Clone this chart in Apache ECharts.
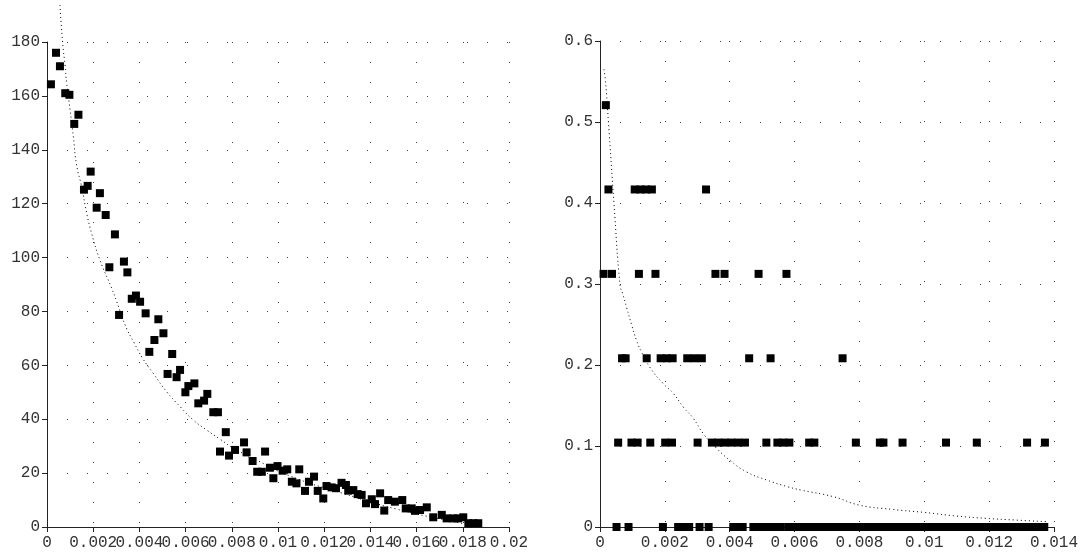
<!DOCTYPE html>
<html>
<head>
<meta charset="utf-8">
<script src="https://cdn.jsdelivr.net/npm/echarts@6/dist/echarts.min.js"></script>
<style>html,body{margin:0;padding:0;background:#fff}#c{width:1081px;height:552px}</style>
</head>
<body>
<div id="c"></div>
<script>
// ---------- Left chart data ----------
const leftPointsX = [0.00017,0.00039,0.00056,0.00079,0.00097,0.00118,0.00136,0.0016,0.00176,0.00189,
  0.00215,0.00229,0.00254,0.0027,0.00294,0.00312,0.00333,0.00348,0.00367,0.00385,
  0.00403,0.00427,0.00443,0.00465,0.00482,0.00504,0.00522,0.00542,0.00561,0.00576,
  0.00599,0.00612,0.00638,0.00655,0.0068,0.00694,0.0072,0.0074,0.00749,0.00774,
  0.00788,0.00814,0.00853,0.00864,0.0089,0.0091,0.0093,0.00944,0.00965,0.0098,
  0.00998,0.0102,0.0104,0.0106,0.0108,0.01092,0.01117,0.01134,0.01156,0.01172,
  0.01196,0.0121,0.01232,0.01251,0.01275,0.01294,0.01304,0.01326,0.01345,0.01362,
  0.01381,0.01406,0.0142,0.01442,0.0146,0.01477,0.01506,0.01538,0.01553,0.01579,
  0.01593,0.01615,0.01644,0.01672,0.01709,0.0173,0.01759,0.0178,0.01802,0.01824,
  0.01845,0.01867];
const leftPointsY = [164.3,176,171,161,160.4,149.6,153,125.2,126.6,131.9,
  118.5,123.9,115.8,96.4,108.6,78.7,98.5,94.5,84.7,85.9,
  83.6,79.3,65,69.4,77.1,71.9,56.8,64.2,55.6,58.3,
  50,52.3,53.3,45.9,46.9,49.4,42.6,42.6,28,35.2,
  26.5,28.6,31.4,27.7,24.5,20.5,20.5,28,22,18.1,
  22.6,20.9,21.4,16.8,16.2,21.4,13.4,16.8,18.7,13.4,
  10.6,15.2,14.7,14.4,16.4,15.6,13.5,13.7,12.2,11.9,
  8.8,10.3,8.5,12.5,6.1,10,9.4,10,6.9,6.9,
  6,6.3,7.3,3.6,4.5,3.2,3.2,3.2,3.6,1.4,
  1.4,1.4];
const leftCurveX = [0.00056,0.00068,0.00078,0.00085,0.001,0.00114,0.00128,0.0015,0.00172,0.00193,
  0.00229,0.0028,0.00302,0.00338,0.00378,0.00414,0.0046,0.00518,0.00576,0.00633,
  0.00691,0.00749,0.00807,0.00879,0.0105,0.0128,0.0151,0.017,0.0185];
const leftCurveY = [193.7,179.3,171.5,164.7,154.8,144.9,134.4,126.3,116.4,109,
  99.1,88.6,83.6,75,68.2,62.6,57,50.2,44.7,39.7,
  36,32.6,29.2,26.1,19,12.5,6.7,3,0.5];
const leftXTicks = {min: 0, max: 0.02, interval: 0.002};
const leftYTicks = {min: 0, max: 180, interval: 20};

// ---------- Right chart data ----------
const rightLevels = [0, 0.1042, 0.2083, 0.3125, 0.4167, 0.5208];
const rightRow5 = [0.00018];
const rightRow4 = [0.00026,0.00107,0.00125,0.00142,0.0016,0.00327];
const rightRow3 = [0.00011,0.00037,0.0012,0.00171,0.00356,0.00384,0.00489,0.00575];
const rightRow2 = [0.00068,0.00079,0.00144,0.00187,0.00206,0.00224,0.00269,0.00291,0.00314,0.0046,0.00526,0.00748];
const rightRow1 = [0.00056,0.00097,0.00116,0.00155,0.00201,0.00222,0.00301,0.00345,0.00365,0.00385,
  0.00405,0.00425,0.00447,0.00513,0.00547,0.00565,0.00584,0.00645,0.00661,0.00789,
  0.00863,0.00874,0.00933,0.01067,0.01162,0.01317,0.01372];
const rightRow0 = [0.00051,0.00088,0.00194,0.00241,0.00261,0.00275,0.00307,0.00335,0.00411,0.00429,
  0.0044,0.00473,0.00487,0.00503,0.00518,0.00533,0.00555,0.0058,0.0060,0.0061,
  0.0063,0.0065,0.0066,0.0068,0.0070,0.0071,0.0073,0.0075,0.0076,0.0078,
  0.0080,0.0081,0.0083,0.0085,0.0086,0.0088,0.0090,0.0091,0.0093,0.0095,
  0.0096,0.0098,0.0100,0.0101,0.0103,0.0105,0.0106,0.0108,0.0110,0.0111,
  0.0113,0.0115,0.0116,0.0118,0.0120,0.0121,0.0123,0.0125,0.0126,0.0128,
  0.0130,0.0131,0.0133,0.0135,0.0136,0.0137];
const rightCurveX = [0.00012,0.00017,0.00026,0.00043,0.00062,0.0007,0.00082,0.00098,0.00113,0.00128,
  0.00154,0.00195,0.00226,0.00257,0.00288,0.00319,0.0036,0.004,0.00452,0.00514,
  0.00576,0.0062,0.0072,0.008,0.009,0.01,0.011,0.0119,0.0128,0.0138];
const rightCurveY = [0.565,0.55,0.5,0.4,0.298,0.288,0.271,0.249,0.23,0.216,
  0.197,0.177,0.165,0.148,0.134,0.115,0.097,0.0825,0.068,0.058,
  0.05,0.0456,0.0374,0.027,0.0218,0.018,0.0135,0.0107,0.0086,0.0065];
const rightXTicks = {min: 0, max: 0.014, interval: 0.002};
const rightYTicks = {min: 0, max: 0.6, interval: 0.1};

// ---------- build ----------
const zip = (xs, ys) => xs.map((x, i) => [x, ys[i]]);
const row = (xs, lvl) => xs.map(x => [x, lvl]);
const rightPoints = [].concat(
  row(rightRow0, rightLevels[0]), row(rightRow1, rightLevels[1]), row(rightRow2, rightLevels[2]),
  row(rightRow3, rightLevels[3]), row(rightRow4, rightLevels[4]), row(rightRow5, rightLevels[5]));

const FONT = 'Liberation Mono';
const gridLine = {show: true, lineStyle: {color: '#444', width: 1, type: [1, 19]}};
const axisBase = (t, gi, isX) => ({
  type: 'value', gridIndex: gi, min: t.min, max: t.max, interval: t.interval,
  axisLine: {show: true, onZero: false, lineStyle: {color: '#222', width: 1}},
  axisTick: {show: true, inside: false, length: 5, lineStyle: {color: '#222'}},
  axisLabel: {show: true, color: '#333', fontFamily: FONT, fontSize: 16,
    margin: isX ? 8 : 7, hideOverlap: false, showMinLabel: true, showMaxLabel: true},
  splitLine: gridLine
});

const chart = echarts.init(document.getElementById('c'), null, {renderer: 'canvas'});
chart.setOption({
  backgroundColor: '#fff',
  animation: false,
  grid: [
    {left: 47, top: 42, width: 462, height: 485, outerBoundsMode: 'none', containLabel: false},
    {left: 600, top: 41, width: 454, height: 486, outerBoundsMode: 'none', containLabel: false}
  ],
  xAxis: [axisBase(leftXTicks, 0, true), axisBase(rightXTicks, 1, true)],
  yAxis: [axisBase(leftYTicks, 0, false), axisBase(rightYTicks, 1, false)],
  series: [
    {type: 'line', xAxisIndex: 0, yAxisIndex: 0, data: zip(leftCurveX, leftCurveY),
      showSymbol: false, smooth: true, clip: false,
      lineStyle: {color: '#000', width: 1, type: [1, 3]}, z: 1},
    {type: 'scatter', xAxisIndex: 0, yAxisIndex: 0, data: zip(leftPointsX, leftPointsY),
      symbol: 'rect', symbolSize: 8, itemStyle: {color: '#000', opacity: 1}, z: 2},
    {type: 'line', xAxisIndex: 1, yAxisIndex: 1, data: zip(rightCurveX, rightCurveY),
      showSymbol: false, smooth: true, clip: false,
      lineStyle: {color: '#000', width: 1, type: [1, 3]}, z: 1},
    {type: 'scatter', xAxisIndex: 1, yAxisIndex: 1, data: rightPoints,
      symbol: 'rect', symbolSize: 8, itemStyle: {color: '#000', opacity: 1}, z: 2}
  ]
});
</script>
</body>
</html>
